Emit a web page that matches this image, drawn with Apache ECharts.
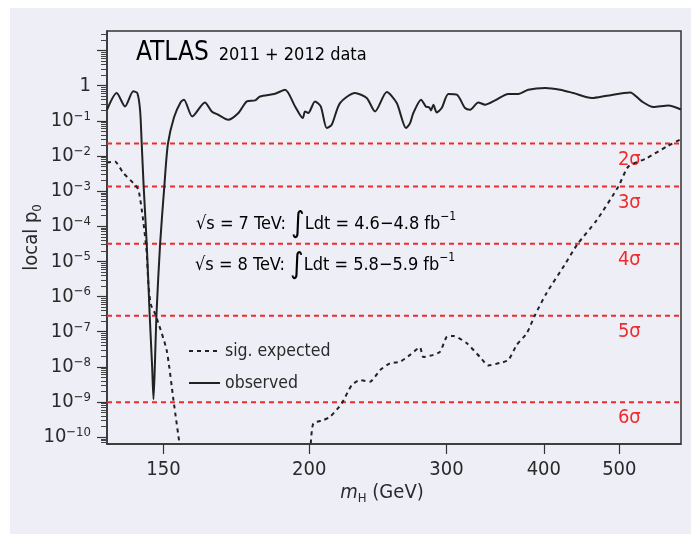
<!DOCTYPE html>
<html>
<head>
<meta charset="utf-8">
<script src="https://cdn.jsdelivr.net/npm/echarts@6/dist/echarts.min.js"></script>
<style>
html,body{margin:0;padding:0;background:#ffffff;}
#chart{width:691px;height:534px;}
</style>
</head>
<body>
<div id="chart"></div>
<script>
// ---- data ----
const obsMass = [110,113.2,116.0,118.9,120.3,121.3,121.9,122.6,123.7,124.8,125.7,126.2,126.7,127.3,128.7,130.3,131.7,134.1,136.8,138.1,141.5,146.9,149.9,152.8,157.4,162.2,166.3,170.4,172.9,180.8,186.2,191.8,196.2,197.5,199.4,203.4,206.9,210.6,213.7,219.0,228.9,237.0,242.9,251.5,259.0,266.2,269.4,272.0,278.3,282.2,285.2,286.6,288.6,291.5,295.8,301.7,309.3,316.9,321.7,329.6,336.2,346.3,360.2,371.0,382.1,401.5,419.7,436.5,461.0,481.9,516.2,534.4,553.1,578.0,600];
const obsP = [0.207,0.62,0.257,0.69,0.62,0.2,0.021,1.3e-3,3.2e-5,2.9e-7,1e-8,1.2e-9,1e-8,2.9e-7,3.2e-5,1.35e-3,0.022,0.127,0.345,0.40,0.133,0.334,0.185,0.149,0.107,0.167,0.357,0.381,0.495,0.59,0.77,0.257,0.12,0.185,0.167,0.357,0.257,0.0624,0.0774,0.321,0.62,0.447,0.185,0.66,0.321,0.0624,0.0865,0.167,0.40,0.257,0.241,0.198,0.288,0.173,0.232,0.58,0.554,0.232,0.207,0.334,0.288,0.381,0.58,0.58,0.77,0.86,0.77,0.62,0.447,0.519,0.644,0.357,0.247,0.275,0.21];

const expMassLow = [110,112.6,115.4,118.9,120.7,122.4,123.7,124.3,125.2,127.0,131.2,133.9,136.5];
const expPLow = [6.5e-3,7.0e-3,3.3e-3,1.7e-3,1.1e-3,1.5e-4,1.75e-5,2.4e-6,6e-7,3.0e-7,3.0e-8,1.1e-9,5e-11];
const expMassHigh = [200.9,202.4,208.5,212.7,220.1,226.7,232.4,239.3,246.6,253.9,261.5,269.4,277.4,280.1,288.6,294.4,300.3,306.2,318.6,331.3,339.5,351.6,360.2,369.2,380.3,389.8,403.3,424.8,441.8,467.8,498.6,513.6,542.3,575.3,600];
const expPHigh = [6.7e-11,2.45e-10,3.05e-10,3.8e-10,9.1e-10,3.0e-9,4.2e-9,3.8e-9,8.1e-9,1.26e-8,1.4e-8,2.2e-8,3.6e-8,1.9e-8,2.2e-8,2.7e-8,7.2e-8,7.6e-8,4.7e-8,1.9e-8,1.1e-8,1.3e-8,1.56e-8,4.2e-8,9.0e-8,3.0e-7,1.27e-6,7.6e-6,3.1e-5,1.5e-4,1.35e-3,5.0e-3,8.7e-3,0.0187,0.03];

const sigmaP = [0.02275,1.35e-3,3.17e-5,2.87e-7,9.87e-10];
const sigmaLabels = ['2σ','3σ','4σ','5σ','6σ'];
const sigmaLabelMass = 515;

const xTickValues = [130,200,300,400,500];
const xTickLabels = ['150','200','300','400','500'];
const yMajorTicks = [1e-10,1e-9,1e-8,1e-7,1e-6,1e-5,1e-4,1e-3,1e-2,1e-1,1,10];
const yLabelValues = [1e-10,1e-9,1e-8,1e-7,1e-6,1e-5,1e-4,1e-3,1e-2,1e-1,1];
const xRange = [110,600];
const yRange = [6.4e-11,36];

// ---- build helpers ----
const yMinorTicks = [];
for (let k = -11; k <= 1; k++) {
  for (let m = 2; m <= 9; m++) {
    const v = m * Math.pow(10, k);
    if (v >= yRange[0] && v <= yRange[1]) yMinorTicks.push(v);
  }
}
const FONT = '"DejaVu Sans Condensed","Liberation Sans Narrow","Roboto Condensed",sans-serif';
const TXT = '#2a2a2a';
const RED = '#f02a2e';

const obsData = obsMass.map((m, i) => [m, obsP[i]]);
const expData = expMassLow.map((m, i) => [m, expPLow[i]])
  .concat([[170, null]])
  .concat(expMassHigh.map((m, i) => [m, expPHigh[i]]));
const sigmaData = sigmaP.map(p => [sigmaLabelMass, p]);

function yLabelFmt(v) {
  const e = Math.round(Math.log10(v));
  if (e === 0) return '{b|1}';
  return '{b|10}{s|−' + Math.abs(e) + '}';
}
function xLabelFmt(v) {
  for (let i = 0; i < xTickValues.length; i++) {
    if (Math.abs(xTickValues[i] - v) < 0.5) return xTickLabels[i];
  }
  return '';
}

const sigmaLineSeries = sigmaP.map((p, i) => ({
  name: 'sigmaLine' + i, type: 'line', yAxisIndex: 0,
  data: [[xRange[0], p], [xRange[1], p]],
  symbol: 'none', silent: true, z: 1,
  lineStyle: {color: RED, type: [5, 4], width: 2}
}));

const chart = echarts.init(document.getElementById('chart'), null, {renderer: 'canvas'});
const option = {
  animation: false,
  backgroundColor: '#ffffff',
  textStyle: {fontFamily: FONT},
  graphic: [
    {type: 'rect', z: -100, silent: true, shape: {x: 10, y: 8, width: 681, height: 526}, style: {fill: '#eeeff6'}},
    {type: 'text', z: 50, left: 136, top: 40, style: {
      text: '{a|ATLAS}{b|2011 + 2012 data}',
      rich: {
        a: {fontFamily: FONT, fontSize: 26, color: TXT, lineHeight: 30, verticalAlign: 'bottom'},
        b: {fontFamily: FONT, fontSize: 18, color: TXT, lineHeight: 30, verticalAlign: 'bottom', padding: [0,0,2,10]}
      }
    }},
    {type: 'text', z: 50, left: 196, top: 210, style: {
      text: '{t|√s = 7 TeV: }{i|∫}{t|Ldt = 4.6−4.8 fb}{s|−1}',
      rich: {
        t: {fontFamily: FONT, fontSize: 18, color: TXT, lineHeight: 28},
        i: {fontFamily: FONT, fontSize: 29, color: TXT, lineHeight: 28},
        s: {fontFamily: FONT, fontSize: 12, color: TXT, lineHeight: 13, verticalAlign: 'top'}
      }
    }},
    {type: 'text', z: 50, left: 195, top: 251, style: {
      text: '{t|√s = 8 TeV: }{i|∫}{t|Ldt = 5.8−5.9 fb}{s|−1}',
      rich: {
        t: {fontFamily: FONT, fontSize: 18, color: TXT, lineHeight: 28},
        i: {fontFamily: FONT, fontSize: 29, color: TXT, lineHeight: 28},
        s: {fontFamily: FONT, fontSize: 12, color: TXT, lineHeight: 13, verticalAlign: 'top'}
      }
    }}
  ],
  grid: {left: 107, top: 31, right: 10, bottom: 90, show: true, borderColor: '#333', borderWidth: 1.5, backgroundColor: 'transparent', containLabel: false},
  legend: {
    data: ['sig. expected', 'observed'],
    orient: 'vertical', left: 183, top: 337, itemWidth: 31, itemHeight: 14, itemGap: 14,
    itemStyle: {opacity: 0, borderWidth: 0},
    textStyle: {fontFamily: FONT, fontSize: 17.5, color: TXT},
    selectedMode: false
  },
  xAxis: {
    type: 'log', logBase: 10, min: xRange[0], max: xRange[1],
    axisLine: {show: true, lineStyle: {color: '#333', width: 1.5}},
    axisTick: {show: true, customValues: xTickValues, length: 10, inside: false, lineStyle: {color: '#333', width: 1.2}},
    axisLabel: {show: true, customValues: xTickValues, formatter: xLabelFmt, margin: 16, fontFamily: FONT, fontSize: 20, color: TXT},
    splitLine: {show: false},
    minorTick: {show: false},
    name: '{i|m}{sub|H}{n| (GeV)}',
    nameLocation: 'middle', nameGap: 37, nameMoveOverlap: false,
    nameTextStyle: {
      padding: [0, 24, 0, 0],
      rich: {
        i: {fontFamily: FONT, fontSize: 20, fontStyle: 'italic', color: TXT, lineHeight: 24},
        sub: {fontFamily: FONT, fontSize: 13, color: TXT, lineHeight: 14, verticalAlign: 'bottom'},
        n: {fontFamily: FONT, fontSize: 20, color: TXT, lineHeight: 24}
      }
    }
  },
  yAxis: [
    {
      type: 'log', logBase: 10, min: yRange[0], max: yRange[1], position: 'left',
      axisLine: {show: true, lineStyle: {color: '#333', width: 1.5}},
      axisTick: {show: true, customValues: yMajorTicks, length: 10, inside: false, lineStyle: {color: '#333', width: 1.2}},
      axisLabel: {
        show: true, customValues: yLabelValues, formatter: yLabelFmt, margin: 16,
        rich: {
          b: {fontFamily: FONT, fontSize: 20, color: TXT, lineHeight: 22},
          s: {fontFamily: FONT, fontSize: 13, color: TXT, lineHeight: 13, verticalAlign: 'top'}
        }
      },
      splitLine: {show: false},
      name: '{n|local p}{sub|0}',
      nameLocation: 'middle', nameGap: 63, nameRotate: 90, nameMoveOverlap: false,
      nameTextStyle: {
        rich: {
          n: {fontFamily: FONT, fontSize: 20, color: TXT, lineHeight: 24},
          sub: {fontFamily: FONT, fontSize: 13, color: TXT, lineHeight: 14, verticalAlign: 'bottom'}
        }
      }
    },
    {
      type: 'log', logBase: 10, min: yRange[0], max: yRange[1], position: 'left',
      axisLine: {show: false},
      axisTick: {show: true, customValues: yMinorTicks, length: 6, inside: false, lineStyle: {color: '#444', width: 1}},
      axisLabel: {show: false},
      splitLine: {show: false}
    }
  ],
  series: [
    {
      name: 'sig. expected', type: 'line', data: expData, yAxisIndex: 0,
      symbol: 'none', smooth: 0.2, connectNulls: false,
      lineStyle: {color: '#222', width: 2, type: [4, 4]},
      itemStyle: {color: '#222'}, z: 3
    },
    {
      name: 'observed', type: 'line', data: obsData, yAxisIndex: 0,
      symbol: 'none', smooth: 0.25,
      lineStyle: {color: '#222', width: 2},
      itemStyle: {color: '#222'}, z: 4
    },
    {
      name: 'sigma', type: 'scatter', data: sigmaData, yAxisIndex: 0,
      symbolSize: 0, silent: true, z: 2,
      itemStyle: {opacity: 1},
      label: {
        show: true, position: 'bottom', distance: 6,
        formatter: p => sigmaLabels[p.dataIndex],
        fontFamily: FONT, fontSize: 20, color: RED, opacity: 1
      }
    }
  ].concat(sigmaLineSeries)
};
chart.setOption(option);
</script>
</body>
</html>
